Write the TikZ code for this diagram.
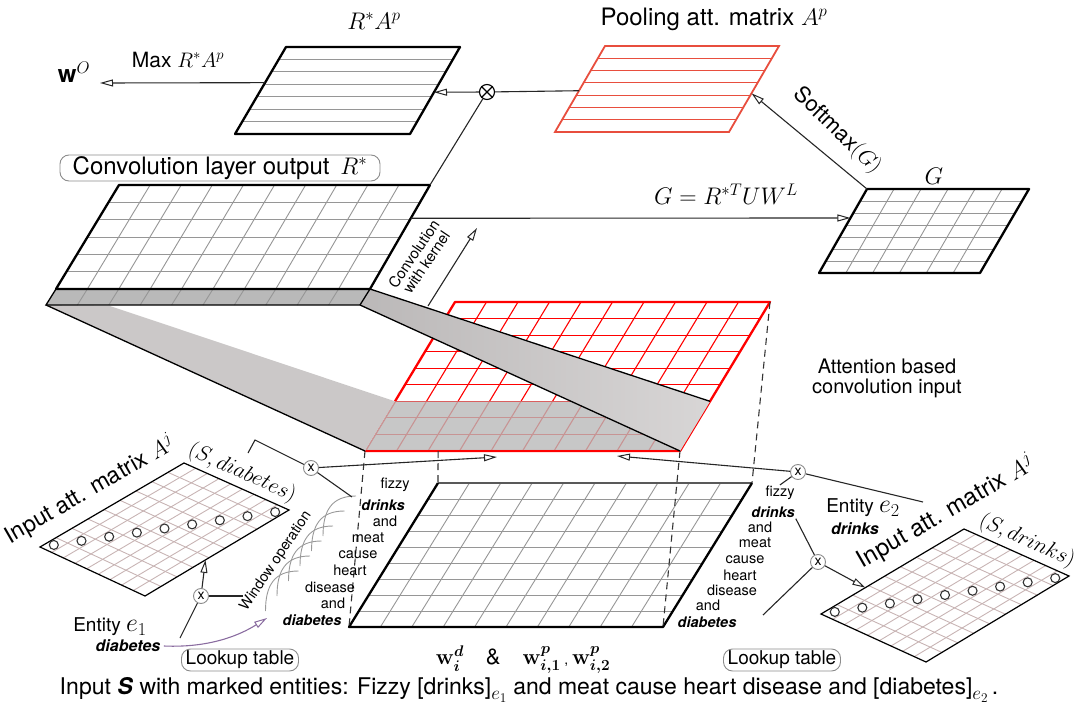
\RequirePackage{fix-cm}
\documentclass[tikz,border=0pt]{standalone}
\usepackage{amsmath}
\usepackage{fontspec}
\setmainfont{TeX Gyre Heros}
\usetikzlibrary{arrows.meta,calc}

\definecolor{attred}{RGB}{255,0,0}
\definecolor{poolred}{RGB}{232,78,62}
\definecolor{cellgray}{RGB}{150,150,150}
\definecolor{attgrid}{RGB}{200,180,180}
\definecolor{slabgray}{RGB}{203,200,200}
\definecolor{shadegray}{RGB}{185,185,185}
\definecolor{lilac}{RGB}{138,108,160}

\newcommand{\px}[1]{\fontsize{#1}{#1}\selectfont}
\newcommand{\ent}[1]{\textbf{\textit{#1}}}
\newcommand{\sub}[1]{\raisebox{-5pt}{\px{19}$#1$}}

% grid lines of a parallelogram given by #1-tl, #1-tr, #1-br, #1-bl
\newcommand{\cells}[4]{%
  \pgfmathtruncatemacro\ncols{#2-1}%
  \pgfmathtruncatemacro\nrows{#3-1}%
  \foreach \k in {1,...,\ncols}
    \draw[#4] ($(#1-tl)!\k/#2!(#1-tr)$) -- ($(#1-bl)!\k/#2!(#1-br)$);
  \foreach \k in {1,...,\nrows}
    \draw[#4] ($(#1-tl)!\k/#3!(#1-bl)$) -- ($(#1-tr)!\k/#3!(#1-br)$);
}

\tikzset{
  matframe/.style={line width=2.3pt, line join=round},
  cellline/.style={cellgray, line width=0.9pt},
  conn/.style={line width=1.1pt, black!85},
  openarr/.style={-{Triangle[open,length=13pt,width=7pt,line width=1pt]}},
  mult/.style={circle, draw=black!45, fill=white, line width=0.9pt, inner sep=0pt,
    minimum size=15pt, font=\px{14}},
  word/.style={font=\px{14.5}, inner sep=1pt},
  mlbl/.style={font=\px{24}, inner sep=1pt},
  tagbox/.style={rounded corners=9pt, draw=black!45, line width=0.9pt, inner sep=1pt},
  dashln/.style={dash pattern=on 7pt off 5pt, line width=1.1pt, black!80},
  ring/.style={circle, draw=black!80, line width=1.1pt, minimum size=9pt, inner sep=0pt},
  windarc/.style={black!40, line width=0.9pt},
}

\begin{document}
\begin{tikzpicture}[x=1pt, y=-1pt]
\useasboundingbox (0,0) rectangle (1080,709);

% corner points of the matrices
\coordinate (ra-tl) at (286,47);  \coordinate (ra-tr) at (460,47);
\coordinate (ra-br) at (410,134); \coordinate (ra-bl) at (235,134);
\coordinate (pl-tl) at (605,46);  \coordinate (pl-tr) at (779,46);
\coordinate (pl-br) at (729,132); \coordinate (pl-bl) at (555,132);
\coordinate (rs-tl) at (119,185); \coordinate (rs-tr) at (430,185);
\coordinate (rs-br) at (370,289); \coordinate (rs-bl) at (56,289);
\coordinate (rs-sr) at (360,305); \coordinate (rs-sl) at (46,305);
\coordinate (g-tl) at (867,189);  \coordinate (g-tr) at (1029,189);
\coordinate (g-br) at (980,273);  \coordinate (g-bl) at (819,273);
\coordinate (at-tl) at (455,302); \coordinate (at-tr) at (770,302);
\coordinate (at-br) at (680,451); \coordinate (at-bl) at (365,451);
\coordinate (wm-tl) at (438,483); \coordinate (wm-tr) at (752,483);
\coordinate (wm-br) at (663,627); \coordinate (wm-bl) at (349,627);
\coordinate (lm-tl) at (184,463); \coordinate (lm-tr) at (289,510);
\coordinate (lm-br) at (145,596); \coordinate (lm-bl) at (40,547);
\coordinate (rm-tl) at (964,529); \coordinate (rm-tr) at (1069,576);
\coordinate (rm-br) at (926,662); \coordinate (rm-bl) at (821,614);

% attention based convolution input
\fill[white] (at-tl) -- (at-tr) -- (at-br) -- (at-bl) -- cycle;
\cells{at}{10}{9}{attred, line width=1.1pt}
\draw[attred, matframe] (at-tl) -- (at-tr) -- (at-br) -- (at-bl) -- cycle;
\coordinate (sh-tl) at ($(at-tl)!6/9!(at-bl)$);
\coordinate (sh-tr) at ($(at-tr)!6/9!(at-br)$);
\fill[shadegray, opacity=0.8] (sh-tl) -- (sh-tr) -- (at-br) -- (at-bl) -- cycle;
\draw[attred, line width=2.3pt] (at-bl) -- (at-br);

% slabs down from R*
\coordinate (fn-top) at (110,306);
\fill[slabgray] (rs-sl) -- (fn-top) -- (sh-tl) -- (at-bl) -- cycle;
\draw[line width=1.3pt] (rs-sl) -- (at-bl);
\shade[left color=slabgray!92!black, right color=slabgray!75!white]
  (rs-br) -- (sh-tr) -- (at-br) -- (rs-sr) -- cycle;
\draw[line width=1.3pt] (rs-br) -- (sh-tr) (rs-sr) -- (at-br);

% convolution layer output R*
\fill[white] (rs-tl) -- (rs-tr) -- (rs-br) -- (rs-bl) -- cycle;
\cells{rs}{10}{6}{cellline}
\fill[shadegray] (rs-bl) -- (rs-br) -- (rs-sr) -- (rs-sl) -- cycle;
\foreach \k in {1,...,9}
  \draw[cellline] ($(rs-bl)!\k/10!(rs-br)$) -- ($(rs-sl)!\k/10!(rs-sr)$);
\draw[matframe] (rs-bl) -- (rs-tl) -- (rs-tr) -- (rs-br) -- cycle;
\draw[line width=1.3pt] (rs-bl) -- (rs-sl) -- (rs-sr) -- (rs-br);

% R*A^p
\fill[white] (ra-tl) -- (ra-tr) -- (ra-br) -- (ra-bl) -- cycle;
\foreach \k in {1,...,6}
  \draw[cellline] ($(ra-tl)!\k/7!(ra-bl)$) -- ($(ra-tr)!\k/7!(ra-br)$);
\draw[matframe] (ra-tl) -- (ra-tr) -- (ra-br) -- (ra-bl) -- cycle;

% pooling matrix
\foreach \k in {1,...,6}
  \draw[poolred, line width=1.2pt] ($(pl-tl)!\k/7!(pl-bl)$) -- ($(pl-tr)!\k/7!(pl-br)$);
\draw[poolred, line width=1.8pt] (pl-tl) -- (pl-tr) -- (pl-br) -- (pl-bl) -- cycle;

% G
\cells{g}{6}{7}{cellline}
\draw[matframe] (g-tl) -- (g-tr) -- (g-br) -- (g-bl) -- cycle;

% word matrix
\cells{wm}{10}{9}{cellline}
\draw[black!65, line width=1.3pt] (wm-tl) -- (wm-tr);
\draw[matframe] (wm-tl) -- (wm-bl) -- (wm-br) -- (wm-tr);

% input attention matrices
\foreach \m in {lm,rm} {
  \cells{\m}{9}{9}{attgrid, line width=0.9pt}
  \draw[line width=1.2pt] (\m-tl) -- (\m-tr) -- (\m-br) -- (\m-bl) -- cycle;
  \foreach \k in {1,...,9}
    \node[ring] at ($(\m-bl)!{(\k-0.5)/9}!(\m-tr)$) {};
}

% projections
\draw[dashln] (at-tr) -- (wm-tr);
\draw[dashln] (at-br) -- (wm-br);
\draw[dashln] (at-bl) -- (wm-bl);
\draw[dashln] ($(at-bl)!0.232!(at-br)$) -- (wm-tl);

% labels
\node[mlbl] (ra-lbl) at (374,21) {$R^*A^p$};
\node[font=\px{21}] (max-lbl) at (178,60) {Max $R^*A^p$};
\node[mlbl] (wo) at (74,72) {$\mathbf{w}^O$};
\node[font=\px{24}] (pl-lbl) at (714,19) {Pooling att. matrix $A^p$};
\node[font=\px{24}, tagbox, minimum width=320pt, minimum height=26pt] (rs-lbl) at (220,168)
  {Convolution layer output\, $R^*$};
\node[mlbl] (geq) at (726,194) {$G = R^{*T}UW^L$};
\node[mlbl] (g-lbl) at (934,176) {$G$};
\node[font=\px{22}, rotate=-44] (soft) at (837,131) {$\mathrm{Softmax}(G)$};
\node[font=\px{20}, align=center] (att-lbl) at (887,378) {Attention based\\convolution input};
\node[font=\px{15}, align=center, rotate=56] (ck-lbl) at (420,258) {Convolution\\with kernel};
\node[font=\px{14.5}, rotate=56] (win-lbl) at (276,561) {Window operation};
\node[font=\px{23}, rotate=30] (lm-lbl) at (90,490) {Input att. matrix $A^j$};
\node[font=\px{24}, rotate=30] (rm-lbl) at (946,512) {Input att. matrix $A^j$};
\node[font=\px{22}, rotate=-24] (lm-pair) at (242,473) {$(S,diabetes)$};
\node[font=\px{22}, rotate=-24] (rm-pair) at (1027,541) {$(S,drinks)$};
\node[font=\px{19}] (ent1) at (110,627) {Entity \px{26}$e_1$};
\node[font=\px{16}] (ent1w) at (128,646) {\ent{diabetes}};
\node[font=\px{19}] (ent2) at (863,508) {Entity \px{26}$e_2$};
\node[font=\px{16}] (ent2w) at (855,529) {\ent{drinks}};
\node[font=\px{19}, tagbox, minimum width=117pt, minimum height=22pt] (lk1) at (240,660) {Lookup table};
\node[font=\px{19}, tagbox, minimum width=117pt, minimum height=22pt] (lk2) at (782,660) {Lookup table};
\node[font=\px{22}] (wvec) at (523,660)
  {{\boldmath$\mathbf{w}_i^d$}\quad\&\quad{\boldmath$\mathbf{w}^p_{i,1}$}\,{\px{14},}\,{\boldmath$\mathbf{w}^p_{i,2}$}};
\node[font=\px{23}] (caption) at (529,690)
  {Input \ent{S} with marked entities: Fizzy [drinks]\sub{e_1} and meat cause heart disease and [diabetes]\sub{e_2}\,.};

% sentence written down both sides
\foreach \w/\x/\y [count=\k] in {fizzy/395/485, \ent{drinks}/383/505, and/385/521,
    meat/368/538, cause/358/555, heart/350/570, disease/330/587, and/333/603,
    \ent{diabetes}/312/620}
  \node[word] (lw\k) at (\x,\y) {\w};
\foreach \w/\x/\y [count=\k] in {fizzy/780/493, \ent{drinks}/773/512, and/760/527,
    meat/755/543, cause/745/560, heart/740/575, disease/732/590, and/708/605,
    \ent{diabetes}/707/622}
  \node[word] (rw\k) at (\x,\y) {\w};

% windows over the words
\coordinate (win0) at (356,496);
\foreach \k in {0,...,5}
  \draw[windarc] ($(win0)+(-11.5*\k,15*\k)$) .. controls +(-24,0) and +(0,-26) .. +(-33,40);

% multiplications
\node[circle, draw, line width=1.1pt, minimum size=15pt, inner sep=0pt] (otimes) at (487,92) {};
\draw[line width=1.1pt] (otimes.45) -- (otimes.225) (otimes.135) -- (otimes.315);
\node[mult] (xl1) at (311,468) {x};
\node[mult] (xl2) at (201,596) {x};
\node[mult] (xr1) at (798,472) {x};
\node[mult] (xr2) at (818,562) {x};

% free ends
\coordinate (wo-end) at (100,83);
\coordinate (ck-a) at (428,306);
\coordinate (ck-b) at (477,228);
\coordinate (in-l) at (497,457);
\coordinate (in-r) at (617,456);
\coordinate (br-a) at (248,453);
\coordinate (br-b) at (255,440);
\coordinate (xl1-out) at (352,497);
\coordinate (xr1-out) at (923,502);
\coordinate (xr2-out) at (763,615);
\coordinate (ent1-out) at (180,638);
\coordinate (xl2-out) at (243,596);
\coordinate (win-in) at (267,618);

% connectors
\draw[conn, openarr] (otimes) -- ($(ra-tr)!0.52!(ra-br)$);
\draw[conn] (otimes) -- ($(pl-tl)!0.52!(pl-bl)$);
\draw[conn] (otimes) -- (rs-tr);
\draw[conn, openarr] ($(ra-tl)!0.41!(ra-bl)$) -- (wo-end);
\draw[conn, openarr] (g-tl) -- ($(pl-tr)!0.55!(pl-br)$);
\draw[conn, openarr] ($(rs-tr)!0.32!(rs-br)$) -- ($(g-tl)!0.345!(g-bl)$);
\draw[conn, openarr] (ck-a) -- (ck-b);
\draw[conn, openarr] (xl1) -- (in-l);
\draw[conn, openarr] (xr1) -- (in-r);
\draw[conn] (br-a) -- (br-b) -- (xl1);
\draw[conn] (xl1) -- (xl1-out);
\draw[conn] (xr1) -- (rw1.north);
\draw[conn] (xr1) -- (xr1-out);
\draw[conn] (rw2.south east) -- (xr2);
\draw[conn] (xr2) -- (xr2-out);
\draw[conn, openarr] (xr2) -- ($(rm-bl)!0.31!(rm-tl)$);
\draw[conn] (ent1-out) -- (xl2);
\draw[conn, openarr] (xl2) -- ($(lm-br)!0.42!(lm-tr)$);
\draw[conn] (xl2) -- (xl2-out);
\draw[lilac, line width=1.1pt, openarr] (ent1w.east) .. controls (210,648) and (240,635) .. (win-in);
\end{tikzpicture}
\end{document}
